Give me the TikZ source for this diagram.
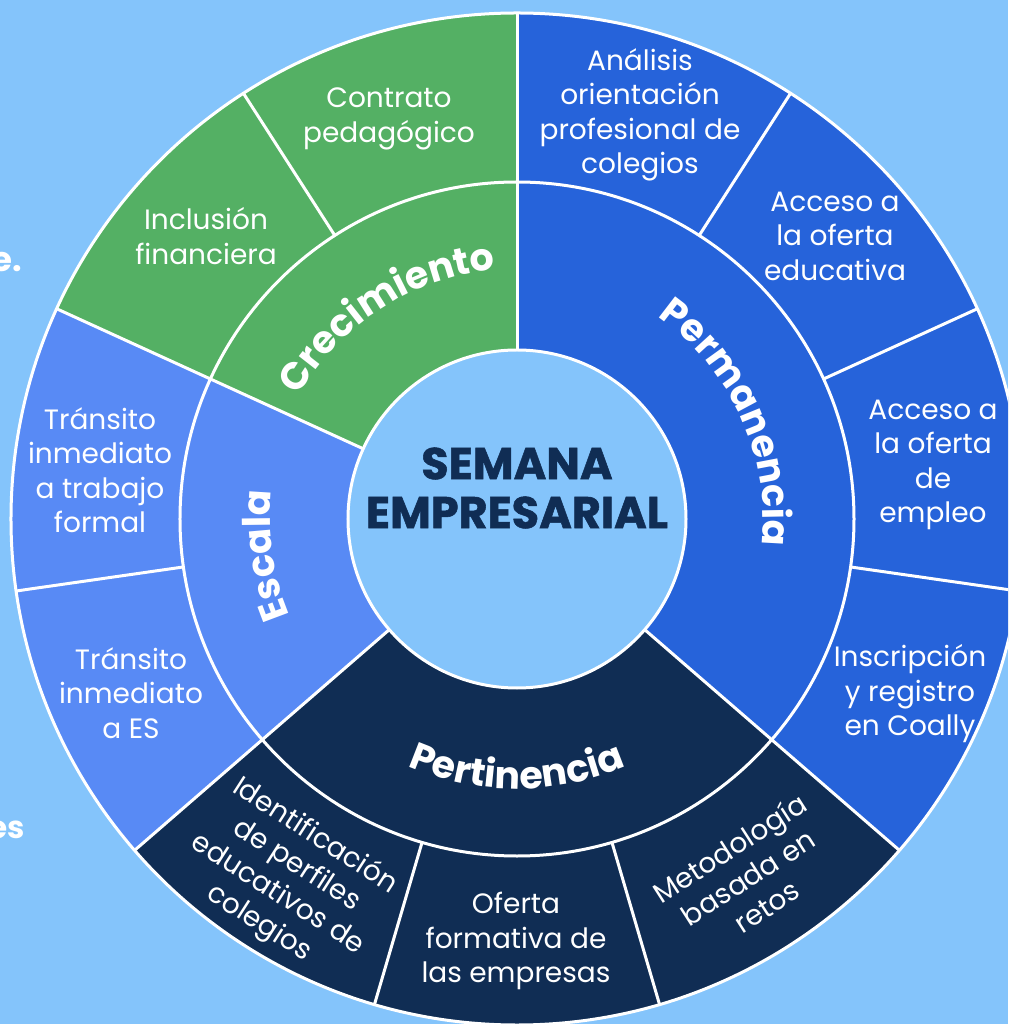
\documentclass[tikz,border=0pt]{standalone}
\usepackage{fontspec}
\setmainfont{Poppins}
\newfontfamily\titlefont{Poppins}[BoldFeatures={FakeBold=1.2}]
\usetikzlibrary{decorations.text}
\definecolor{bgblue}{RGB}{132,196,251}
\definecolor{cgreen}{RGB}{84,176,100}
\definecolor{cblue}{RGB}{38,99,218}
\definecolor{cescala}{RGB}{88,138,245}
\definecolor{cnavy}{RGB}{16,45,84}
\newcommand\midfont{\color{white}\bfseries\fontsize{38}{38}\selectfont}
\tikzset{
  seplines/.style={white, line width=3pt},
  outerlab/.style={text=white, align=center, font=\fontsize{28}{34.5}\selectfont, inner sep=0pt},
  midlab/.style={decorate, decoration={text along path, text align=center, text={|\midfont|#1}}},
  cutlab/.style={text=white, font=\bfseries\fontsize{34}{34}\selectfont, inner sep=0pt, anchor=base east},
}
\begin{document}
\begin{tikzpicture}[x=1pt,y=1pt]
\useasboundingbox (-517,-505) rectangle (491,519);
\clip (-517,-505) rectangle (491,519);
\fill[bgblue] (-517,-505) rectangle (491,519);
% partial texts at the left edge
\node[cutlab] (cutA) at (-495,247) {e.};
\node[cutlab, font=\bfseries\fontsize{31}{31}\selectfont] (cutB) at (-492,-319) {es};
% sectors
\def\s{32.727273}
\fill[cgreen] (0,0) -- (90:506) arc[start angle=90, end angle=155.4545, radius=506] -- cycle;
\fill[cescala] (0,0) -- (155.4545:506) arc[start angle=155.4545, end angle=220.9091, radius=506] -- cycle;
\fill[cnavy] (0,0) -- (220.9091:506) arc[start angle=220.9091, end angle=319.0909, radius=506] -- cycle;
\fill[cblue] (0,0) -- (319.0909:506) arc[start angle=319.0909, end angle=450, radius=506] -- cycle;
% rings
\draw[seplines] (0,0) circle[radius=506];
\draw[seplines] (0,0) circle[radius=337];
% radial separators
\foreach \k in {1,3,5,6,8,9,10} \draw[seplines] ({90+\k*\s}:337) -- ({90+\k*\s}:506);
\foreach \a in {90,155.4545,220.9091,319.0909} \draw[seplines] (\a:169) -- (\a:506);
% hub
\node[circle, draw=white, line width=3pt, fill=bgblue, minimum size=338pt, inner sep=0pt] (hub) at (0,0) {};
\node[text=cnavy, font=\titlefont\bfseries\fontsize{44.5}{49}\selectfont, align=center, inner sep=0pt] (title) at (0,31) {SEMANA\\EMPRESARIAL};
% middle ring labels
\path[midlab=Crecimiento] (162.73:250) arc[start angle=162.73, end angle=82.73, radius=250];
\path[midlab=Permanencia] (69.545:246) arc[start angle=69.545, end angle=-20.455, radius=246];
\path[midlab=Escala] (228.18:247) arc[start angle=228.18, end angle=148.18, radius=247];
\path[midlab=Pertinencia] (222:270) arc[start angle=222, end angle=318, radius=270];
% outer ring labels
\node[outerlab] (contrato) at (-128,400) {Contrato\\pedagógico};
\node[outerlab] (inclusion) at (-311,283) {Inclusión\\financiera};
\node[outerlab] (formal) at (-417,49) {Tránsito\\inmediato\\a trabajo\\formal};
\node[outerlab] (aes) at (-386,-174) {Tránsito\\inmediato\\a ES};
\node[outerlab, rotate=-32.73] (perfiles) at (-230,-361) {Identificación\\de perfiles\\educativos de\\colegios};
\node[outerlab] (oferta) at (-1,-422) {Oferta\\formativa de\\las empresas};
\node[outerlab, rotate=32.73] (retos) at (231,-358) {Metodología\\basada en\\retos};
\node[outerlab] (coally) at (393,-175) {Inscripción\\y registro\\en Coally};
\node[outerlab] (empleo) at (416,54) {Acceso a\\la oferta\\de\\empleo};
\node[outerlab] (educativa) at (318,283) {Acceso a\\la oferta\\educativa};
\node[outerlab] (analisis) at (123,404) {Análisis\\orientación\\profesional de\\colegios};
\end{tikzpicture}
\end{document}
